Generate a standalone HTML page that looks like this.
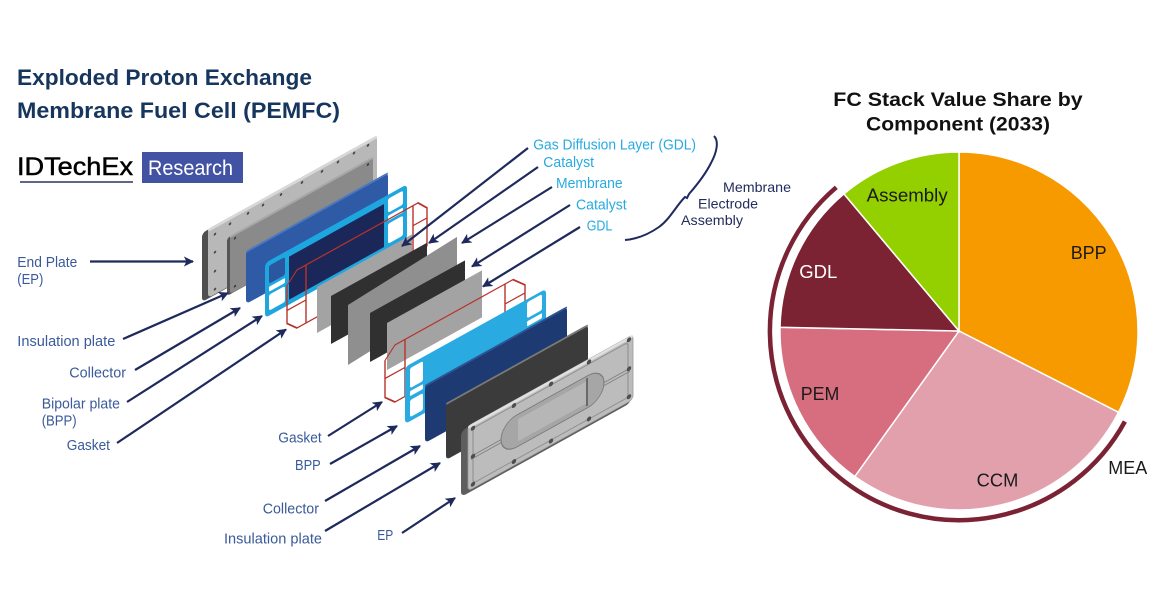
<!DOCTYPE html>
<html><head><meta charset="utf-8"><style>
html,body{margin:0;padding:0;background:#fff;}
svg{display:block;}
text{font-family:"Liberation Sans",Arial,sans-serif;}
</style></head><body>
<svg width="1174" height="615" viewBox="0 0 1174 615" xmlns="http://www.w3.org/2000/svg">
<defs>
<marker id="ah" viewBox="0 0 10 10" refX="9" refY="5" markerWidth="5.6" markerHeight="4.6" orient="auto" markerUnits="strokeWidth">
<path d="M0,0 L10,5 L0,10 L2.5,5 z" fill="#1e2a5c"/>
</marker>
</defs>
<rect width="1174" height="615" fill="#fff"/>

<!-- Title -->
<text x="17" y="85" font-size="22" font-weight="bold" fill="#17365d" textLength="295" lengthAdjust="spacingAndGlyphs">Exploded Proton Exchange</text>
<text x="17" y="118" font-size="22" font-weight="bold" fill="#17365d" textLength="323" lengthAdjust="spacingAndGlyphs">Membrane Fuel Cell (PEMFC)</text>

<!-- Logo -->
<text x="17" y="175" font-size="25" fill="#000" stroke="#000" stroke-width="0.5" textLength="116" lengthAdjust="spacingAndGlyphs">IDTechEx</text>
<line x1="20" y1="182" x2="133" y2="182" stroke="#2a3466" stroke-width="1.5"/>
<rect x="142" y="152" width="101" height="31" fill="#4353a3"/>
<text x="148" y="175" font-size="21" fill="#fff" textLength="85" lengthAdjust="spacingAndGlyphs">Research</text>

<!-- ===== Exploded stack ===== -->
<!-- EP left -->
<g transform="translate(202,233) skewY(-29)"><rect width="169" height="69" rx="4" fill="#4f4f4f"/></g>
<g transform="translate(208,229) skewY(-29)">
<rect width="169" height="69" rx="4" fill="#b8b8b8"/>
<rect width="169" height="3" rx="1.5" fill="#d8d8d8"/>
<g fill="#4a4a4a">
<circle cx="7" cy="9" r="1.3"/><circle cx="7" cy="27" r="1.3"/><circle cx="7" cy="46" r="1.3"/><circle cx="7" cy="64" r="1.3"/>
<circle cx="22" cy="7" r="1.3"/><circle cx="40" cy="6.5" r="1.3"/><circle cx="55" cy="6.5" r="1.3"/><circle cx="73" cy="6" r="1.3"/><circle cx="94" cy="5.5" r="1.3"/><circle cx="114" cy="5.5" r="1.3"/><circle cx="130" cy="5" r="1.3"/><circle cx="146" cy="5" r="1.3"/><circle cx="160" cy="5" r="1.3"/>
</g>
</g>
<!-- Insulation left -->
<g transform="translate(227,238) skewY(-29)"><rect width="143" height="58" rx="3" fill="#555"/></g>
<g transform="translate(230,236) skewY(-29)">
<rect width="143" height="58" rx="3" fill="#8a8a8a"/>
<rect width="143" height="2" fill="#a8a8a8"/>
<g fill="#3e3e3e"><circle cx="5" cy="5" r="1.2"/><circle cx="5" cy="53" r="1.2"/><circle cx="138" cy="5" r="1.2"/></g>
</g>
<!-- Collector left -->
<g transform="translate(246,251) skewY(-29)">
<rect width="142" height="53" rx="4" fill="#2e5aa6"/>
<rect width="142" height="2" rx="1" fill="#4a78c4"/>
</g>
<!-- BPP left -->
<g transform="translate(265,263) skewY(-29)">
<rect width="142" height="55" rx="4" fill="#1ea6df"/>
<rect x="24" y="7" width="95" height="43" fill="#1c2759"/>
<rect x="4" y="5" width="16" height="18" rx="2" fill="#2b56a0"/>
<rect x="4" y="26" width="16" height="5" rx="1" fill="#fff"/>
<rect x="4" y="34" width="16" height="16" rx="2" fill="#fff"/>
<rect x="123" y="4" width="15" height="14" rx="2" fill="#fff"/>
<rect x="123" y="21" width="15" height="5" rx="1" fill="#fff"/>
<rect x="123" y="29" width="15" height="20" rx="2" fill="#fff"/>
</g>
<!-- Gasket left -->
<g transform="translate(287,275.5) skewY(-29)" fill="none" stroke="#b8332b" stroke-width="1.4">
<path d="M10,0 H131 L140,10 V48 L131,58 H10 L0,48 V10 Z M19,0 V58 M126,0 V58 M0,35 H19 M126,20 H140"/>
</g>
<!-- GDL1 -->
<g transform="translate(317,287) skewY(-29)"><rect width="95" height="46" fill="#a3a3a3"/></g>
<!-- Catalyst1 -->
<g transform="translate(331,296) skewY(-29)"><rect width="96" height="48" fill="#303030"/></g>
<!-- Membrane -->
<g transform="translate(348,305) skewY(-32)"><rect width="109" height="60" fill="#8f8f8f"/></g>
<!-- Catalyst2 -->
<g transform="translate(370,313) skewY(-29)"><rect width="95" height="49" fill="#303030"/></g>
<!-- GDL2 -->
<g transform="translate(387,323) skewY(-29)"><rect width="95" height="47" fill="#a3a3a3"/></g>
<!-- Gasket right -->
<g transform="translate(385,350.5) skewY(-29)" fill="none" stroke="#b8332b" stroke-width="1.4">
<path d="M10,0 H128 L140,12 V47 L131,57 H10 L0,47 V10 Z M20,0 V57 M120,0 V57 M0,28 H20 M120,20 H140"/>
</g>
<!-- BPP right -->
<g transform="translate(405,367) skewY(-29)">
<rect width="141" height="57" rx="4" fill="#29abe2"/>
<rect x="5" y="4" width="13" height="20" rx="2" fill="#fff"/>
<rect x="5" y="27" width="13" height="5" rx="1" fill="#fff"/>
<rect x="5" y="36" width="13" height="17" rx="2" fill="#fff"/>
<rect x="122" y="3" width="15" height="16" rx="2" fill="#fff"/>
<rect x="122" y="22" width="15" height="5" rx="1" fill="#fff"/>
<rect x="122" y="30" width="15" height="14" rx="2" fill="#fff"/>
</g>
<!-- Collector right -->
<g transform="translate(425,385) skewY(-29)">
<rect width="142" height="58" rx="4" fill="#1d3a72"/>
<rect width="142" height="2" rx="1" fill="#2f5596"/>
</g>
<!-- Insulation right -->
<g transform="translate(446,403) skewY(-29)">
<rect width="142" height="57" rx="4" fill="#3b3b3b"/>
<rect width="142" height="2" rx="1" fill="#7a7a7a"/>
</g>
<!-- EP right -->
<g transform="translate(461,431) skewY(-29)"><rect width="170" height="66" rx="5" fill="#5e5e5e"/></g>
<g transform="translate(468,426) skewY(-29)">
<rect width="165" height="65" rx="4" fill="#bcbcbc" stroke="#9a9a9a" stroke-width="0.8"/>
<rect width="165" height="3" rx="1.5" fill="#e0e0e0"/>
<rect x="5" y="5" width="155" height="55" rx="3" fill="none" stroke="#8c8c8c" stroke-width="1"/>
<line x1="3" y1="32" x2="162" y2="32" stroke="#808080" stroke-width="1"/>
<line x1="3" y1="35" x2="162" y2="35" stroke="#808080" stroke-width="1"/>
<rect x="33" y="16" width="103" height="32" rx="16" fill="#a6a6a6" stroke="#7a7a7a" stroke-width="1"/>
<rect x="50" y="21" width="68" height="22" fill="#b6b6b6"/>
<line x1="119" y1="18" x2="119" y2="46" stroke="#555" stroke-width="1.5"/>
<g fill="#4e4e4e">
<circle cx="5" cy="5" r="2.2"/><circle cx="5" cy="33" r="2.2"/><circle cx="5" cy="61" r="2.2"/>
<circle cx="46" cy="5" r="2.2"/><circle cx="46" cy="61" r="2.2"/>
<circle cx="83" cy="4" r="2.2"/><circle cx="83" cy="61" r="2.2"/>
<circle cx="121" cy="3" r="2.2"/><circle cx="121" cy="60" r="2.2"/>
<circle cx="161" cy="3" r="2.2"/><circle cx="161" cy="32" r="2.2"/><circle cx="161" cy="60" r="2.2"/>
</g>
</g>

<!-- Arrows -->
<g stroke="#1e2a5c" stroke-width="2.2" marker-end="url(#ah)" fill="none">
<line x1="90" y1="261.5" x2="193" y2="261.5"/>
<line x1="123" y1="339" x2="228" y2="293"/>
<line x1="135" y1="370" x2="240" y2="308"/>
<line x1="127" y1="402" x2="262" y2="316"/>
<line x1="117" y1="443" x2="286" y2="329.5"/>
<line x1="328" y1="436" x2="382" y2="402"/>
<line x1="330" y1="464" x2="397" y2="426"/>
<line x1="325" y1="501" x2="420" y2="446"/>
<line x1="325" y1="531" x2="440" y2="463"/>
<line x1="402" y1="533" x2="455" y2="498"/>
<line x1="528" y1="148" x2="402" y2="246"/>
<line x1="538" y1="167" x2="429" y2="243"/>
<line x1="552" y1="187" x2="462" y2="243"/>
<line x1="570" y1="205" x2="472" y2="266.5"/>
<line x1="580" y1="227" x2="483" y2="286.5"/>
</g>

<!-- Left labels -->
<g font-size="15" fill="#3a5a9a">
<text x="17.3" y="267" textLength="60" lengthAdjust="spacingAndGlyphs">End Plate</text>
<text x="17.3" y="284" textLength="26" lengthAdjust="spacingAndGlyphs">(EP)</text>
<text x="17.3" y="346" textLength="98" lengthAdjust="spacingAndGlyphs">Insulation plate</text>
<text x="69.3" y="377.5" textLength="56.7" lengthAdjust="spacingAndGlyphs">Collector</text>
<text x="41.7" y="408.5" textLength="78.3" lengthAdjust="spacingAndGlyphs">Bipolar plate</text>
<text x="41.7" y="425.5" textLength="35" lengthAdjust="spacingAndGlyphs">(BPP)</text>
<text x="66.7" y="450" textLength="43.3" lengthAdjust="spacingAndGlyphs">Gasket</text>
<text x="278.3" y="442.5" textLength="43.4" lengthAdjust="spacingAndGlyphs">Gasket</text>
<text x="295" y="470" textLength="25.7" lengthAdjust="spacingAndGlyphs">BPP</text>
<text x="262.7" y="513.5" textLength="56.3" lengthAdjust="spacingAndGlyphs">Collector</text>
<text x="224" y="543.5" textLength="98" lengthAdjust="spacingAndGlyphs">Insulation plate</text>
<text x="377.3" y="540" textLength="16" lengthAdjust="spacingAndGlyphs">EP</text>
</g>
<!-- Top labels -->
<g font-size="15" fill="#27aae1">
<text x="533.3" y="149.5" textLength="162.7" lengthAdjust="spacingAndGlyphs">Gas Diffusion Layer (GDL)</text>
<text x="543.3" y="167" textLength="50.7" lengthAdjust="spacingAndGlyphs">Catalyst</text>
<text x="556" y="188" textLength="66.7" lengthAdjust="spacingAndGlyphs">Membrane</text>
<text x="576" y="209.5" textLength="50.7" lengthAdjust="spacingAndGlyphs">Catalyst</text>
<text x="586.7" y="230.5" textLength="25.6" lengthAdjust="spacingAndGlyphs">GDL</text>
</g>
<!-- Brace -->
<path d="M714,136 C719,141 717,152 711,163 C705,175 696,186 689,194 L687,198 L685,197 C676,206 670,219 659,227 C649,234 637,239 625,240" fill="none" stroke="#1f2a5e" stroke-width="2"/>
<g font-size="14" fill="#232c5c">
<text x="723" y="192" textLength="68" lengthAdjust="spacingAndGlyphs">Membrane</text>
<text x="698" y="208.5" textLength="60" lengthAdjust="spacingAndGlyphs">Electrode</text>
<text x="681" y="225" textLength="62" lengthAdjust="spacingAndGlyphs">Assembly</text>
</g>

<!-- ===== Pie chart ===== -->
<text x="833.3" y="106" font-size="19.5" font-weight="bold" fill="#111" textLength="249.4" lengthAdjust="spacingAndGlyphs">FC Stack Value Share by</text>
<text x="866" y="130.5" font-size="19.5" font-weight="bold" fill="#111" textLength="184" lengthAdjust="spacingAndGlyphs">Component (2033)</text>
<g stroke="#fff" stroke-width="1.5">
<path d="M959,331 L959,152 A179,179 0 0 1 1118.5,412.3 Z" fill="#f79a00"/>
<path d="M959,331 L1118.5,412.3 A179,179 0 0 1 854.8,476.5 Z" fill="#e2a0ac"/>
<path d="M959,331 L854.8,476.5 A179,179 0 0 1 780,327.3 Z" fill="#d66e80"/>
<path d="M959,331 L780,327.3 A179,179 0 0 1 843.9,193.9 Z" fill="#7b2333"/>
<path d="M959,331 L843.9,193.9 A179,179 0 0 1 959,152 Z" fill="#94d000"/>
</g>
<path d="M1124.9,421.5 A189,189 0 1 1 836.3,187.3" fill="none" stroke="#7b2334" stroke-width="4.5"/>
<g font-size="18" fill="#1a1a1a">
<text x="866.7" y="201.5" textLength="81" lengthAdjust="spacingAndGlyphs">Assembly</text>
<text x="1070.7" y="259" textLength="36" lengthAdjust="spacingAndGlyphs">BPP</text>
<text x="799.3" y="278" fill="#fff" textLength="38" lengthAdjust="spacingAndGlyphs">GDL</text>
<text x="800.7" y="400" textLength="38.6" lengthAdjust="spacingAndGlyphs">PEM</text>
<text x="976.7" y="486.5" textLength="41.6" lengthAdjust="spacingAndGlyphs">CCM</text>
<text x="1108.3" y="474" textLength="39" lengthAdjust="spacingAndGlyphs">MEA</text>
</g>
</svg>
</body></html>
